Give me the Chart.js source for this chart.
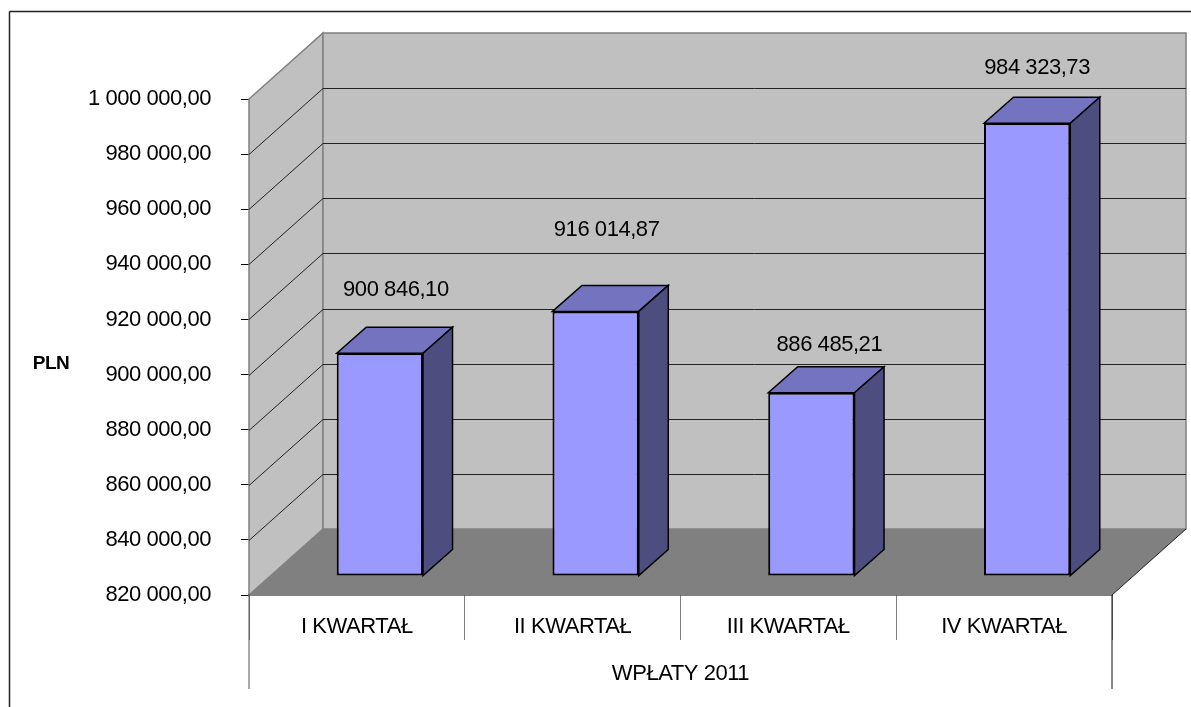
<!DOCTYPE html>
<html>
<head>
<meta charset="utf-8">
<title>WPŁATY 2011</title>
<script src="https://cdn.jsdelivr.net/npm/chart.js@4"></script>
<style>
  html, body { margin: 0; padding: 0; background: #fff; overflow: hidden; }
  canvas { display: block; }
</style>
</head>
<body>
<canvas id="wplaty" width="1191" height="707"></canvas>
<script>
const categories = ['I KWARTAŁ', 'II KWARTAŁ', 'III KWARTAŁ', 'IV KWARTAŁ'];
const groupLabel = 'WPŁATY 2011';
const values = [900846.10, 916014.87, 886485.21, 984323.73];
const axisMin = 820000;
const axisMax = 1000000;
const axisStep = 20000;

// fake 3D: how far the back wall and the bars are pushed
const wallDx = 74, wallDy = -66;
const barDx = 23, barDy = -19;
const sideDx = 29.5, sideDy = -26;
// data labels were moved by hand in the original
const labelShift = [[16, -63], [11, -81], [18, -48], [10, -55]];

const FONT = '"Liberation Sans", Arial, sans-serif';
const FONT_SIZE = 22;

function plNumber(v) {
  const parts = v.toFixed(2).split('.');
  return parts[0].replace(/\B(?=(\d{3})+$)/g, ' ') + ',' + parts[1];
}

function poly(ctx, pts, fill, stroke, lw) {
  ctx.beginPath();
  pts.forEach((p, i) => i ? ctx.lineTo(p[0], p[1]) : ctx.moveTo(p[0], p[1]));
  ctx.closePath();
  if (fill) { ctx.fillStyle = fill; ctx.fill(); }
  if (stroke) { ctx.strokeStyle = stroke; ctx.lineWidth = lw || 1; ctx.stroke(); }
}

function line(ctx, x1, y1, x2, y2, color, lw) {
  ctx.beginPath();
  ctx.moveTo(x1, y1);
  ctx.lineTo(x2, y2);
  ctx.strokeStyle = color;
  ctx.lineWidth = lw || 1;
  ctx.stroke();
}

const box3d = {
  id: 'box3d',
  beforeDraw(chart) {
    // the original text is a bit tall and tight
    chart.ctx.letterSpacing = '-0.45px';
  },
  beforeDatasetsDraw(chart) {
    const ctx = chart.ctx;
    const a = chart.chartArea;
    const y = chart.scales.y;
    const x = chart.scales.x;
    ctx.save();

    // outer frame, only left and top are visible
    line(ctx, 9.5, 11.5, 9.5, 707, '#222', 1.5);
    line(ctx, 9.5, 11.5, 1191, 11.5, '#222', 1.5);

    // walls and floor
    poly(ctx, [[a.left, a.top], [a.left + wallDx, a.top + wallDy],
      [a.left + wallDx, a.bottom + wallDy], [a.left, a.bottom]], '#c0c0c0', '#808080', 1.5);
    poly(ctx, [[a.left + wallDx, a.top + wallDy], [a.right + wallDx, a.top + wallDy],
      [a.right + wallDx, a.bottom + wallDy], [a.left + wallDx, a.bottom + wallDy]], '#c0c0c0', '#808080', 1.5);
    poly(ctx, [[a.left, a.bottom], [a.left + wallDx, a.bottom + wallDy],
      [a.right + wallDx, a.bottom + wallDy], [a.right, a.bottom]], '#808080');
    line(ctx, a.right, a.bottom, a.right + wallDx, a.bottom + wallDy, '#222', 1);

    // gridlines on both walls
    y.ticks.forEach(t => {
      if (t.value === axisMin || t.value === axisMax) return;
      const py = Math.round(y.getPixelForValue(t.value)) + 0.5;
      line(ctx, a.left, py, a.left + wallDx, py + wallDy, '#222', 1);
      line(ctx, a.left + wallDx, py + wallDy, a.right + wallDx, py + wallDy, '#222', 1);
    });

    // outer dividers of the two level category axis
    line(ctx, x.left, a.bottom, x.left, 689, '#555', 1);
    line(ctx, x.right, a.bottom, x.right, 689, '#111', 1);

    // side and top of each bar
    chart.getDatasetMeta(0).data.forEach(bar => {
      const p = bar.getProps(['x', 'y', 'base', 'width'], true);
      const l = p.x - p.width / 2 + barDx;
      const r = p.x + p.width / 2 + barDx;
      const t = p.y + barDy;
      const b = p.base + barDy;
      poly(ctx, [[l, t], [l + sideDx, t + sideDy], [r + sideDx, t + sideDy], [r, t]], '#7373bf', '#000', 1.5);
      poly(ctx, [[r, t], [r + sideDx, t + sideDy], [r + sideDx, b + sideDy], [r, b]], '#4d4d80', '#000', 1.5);
    });
    ctx.restore();
  },
  beforeDatasetDraw(chart) {
    chart.ctx.save();
    chart.ctx.translate(barDx, barDy);
  },
  afterDatasetDraw(chart) {
    chart.ctx.restore();
  },
  afterDatasetsDraw(chart) {
    const ctx = chart.ctx;
    ctx.save();
    ctx.fillStyle = '#000';
    ctx.textAlign = 'center';
    ctx.textBaseline = 'middle';
    ctx.font = FONT_SIZE + 'px ' + FONT;
    chart.getDatasetMeta(0).data.forEach((bar, i) => {
      const p = bar.getProps(['x', 'y'], true);
      ctx.fillText(plNumber(values[i]), p.x + barDx + labelShift[i][0], p.y + barDy + labelShift[i][1]);
    });
    ctx.font = 'bold 19px ' + FONT;
    ctx.fillText('PLN', 51, 364);
    ctx.restore();
  }
};

new Chart(document.getElementById('wplaty'), {
  type: 'bar',
  plugins: [box3d],
  data: {
    labels: categories,
    datasets: [{
      label: groupLabel,
      data: values,
      base: axisMin,
      backgroundColor: '#9999ff',
      borderColor: '#000',
      borderWidth: 2,
      borderSkipped: false,
      barPercentage: 0.4,
      categoryPercentage: 1,
      clip: false
    }]
  },
  options: {
    responsive: false,
    animation: false,
    devicePixelRatio: 1,
    layout: { padding: { top: 99, right: 79, left: 0, bottom: 0 } },
    plugins: { legend: { display: false }, tooltip: { enabled: false } },
    scales: {
      x: {
        afterFit(s) { s.height = 112; },
        border: { color: '#000', width: 1.5 },
        grid: { drawOnChartArea: false, tickLength: 45, color: '#808080' },
        ticks: {
          color: '#000', padding: -26, maxRotation: 0, minRotation: 0, autoSkip: false,
          font: { family: FONT, size: FONT_SIZE }
        },
        title: {
          display: true, text: groupLabel, color: '#000',
          padding: { top: 0, bottom: 20 },
          font: { family: FONT, size: FONT_SIZE }
        }
      },
      y: {
        min: axisMin,
        max: axisMax,
        afterFit(s) { s.width = 249; },
        border: { color: '#000', width: 1 },
        grid: { drawOnChartArea: false, tickLength: 8, color: '#000' },
        ticks: {
          stepSize: axisStep, color: '#000', padding: 30,
          font: { family: FONT, size: FONT_SIZE },
          callback: v => plNumber(v)
        }
      }
    }
  }
});
</script>
</body>
</html>
